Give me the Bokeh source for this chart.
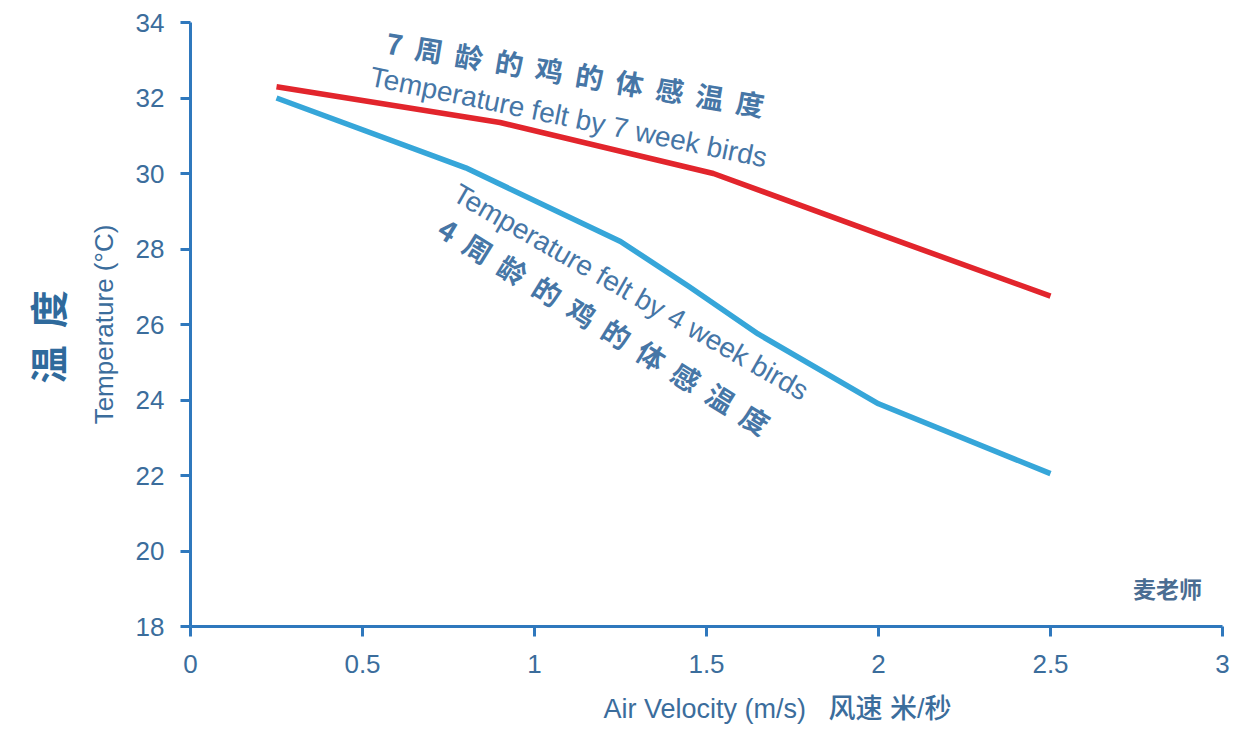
import math
from bokeh.plotting import figure
from bokeh.models import Range1d, FixedTicker, Label, Title
from bokeh.embed import file_html
from bokeh.resources import INLINE

# ---- data ----
x_ticks = [0, 0.5, 1, 1.5, 2, 2.5, 3]
x_tick_labels = ["0", "0.5", "1", "1.5", "2", "2.5", "3"]
y_ticks = [18, 20, 22, 24, 26, 28, 30, 32, 34]
y_tick_labels = ["18", "20", "22", "24", "26", "28", "30", "32", "34"]

velocity_7wk = [0.25, 0.9, 1.52, 2.0, 2.5]
temp_7wk = [32.3, 31.35, 30.0, 28.4, 26.75]

velocity_4wk = [0.25, 0.8, 1.25, 1.45, 1.65, 2.0, 2.5]
temp_4wk = [32.0, 30.15, 28.2, 27.0, 25.75, 23.9, 22.05]

SP = " \u00a0"
title_7wk_cn = SP.join(["7", "周", "龄", "的", "鸡", "的", "体", "感", "温", "度"])
title_7wk_en = "Temperature felt by 7 week birds"
title_4wk_en = "Temperature felt by 4 week birds"
title_4wk_cn = SP.join(["4", "周", "龄", "的", "鸡", "的", "体", "感", "温", "度"])
y_label_en = "Temperature (°C)"
y_label_cn = "温" + SP + "度"
x_label = "Air Velocity (m/s)" + SP + "\u00a0风速 米/秒"
watermark = "麦老师"

# ---- styles ----
AXIS_COLOR = "#2f78bd"
LABEL_COLOR = "#3b6d9c"
NOTE_COLOR = "#4676a6"
RED = "#e2252c"
BLUE = "#36a6d9"
LATIN = "Liberation Sans"
CJK = "Noto Sans CJK SC"

p = figure(width=1248, height=740, output_backend="svg", toolbar_location=None,
           x_range=Range1d(0, 3), y_range=Range1d(18, 34),
           min_border_left=190, min_border_right=26, min_border_top=22,
           min_border_bottom=114)
p.outline_line_color = None
p.grid.visible = False
p.background_fill_color = "white"
p.border_fill_color = "white"

p.line(velocity_7wk, temp_7wk, line_color=RED, line_width=5.5, line_join="round")
p.line(velocity_4wk, temp_4wk, line_color=BLUE, line_width=5.5, line_join="round")

for ax, ticks, labels in ((p.xaxis[0], x_ticks, x_tick_labels), (p.yaxis[0], y_ticks, y_tick_labels)):
    ax.ticker = FixedTicker(ticks=ticks)
    ax.major_label_overrides = {float(t): l for t, l in zip(ticks, labels)}
    ax.axis_line_color = AXIS_COLOR
    ax.axis_line_width = 3
    ax.major_tick_line_color = AXIS_COLOR
    ax.major_tick_line_width = 3
    ax.major_tick_out = 10
    ax.major_tick_in = 0
    ax.minor_tick_line_color = None
    ax.major_label_text_font = LATIN
    ax.major_label_text_font_size = "26px"
    ax.major_label_text_color = LABEL_COLOR
    ax.axis_label_text_font = LATIN
    ax.axis_label_text_font_size = "26px"
    ax.axis_label_text_font_style = "normal"
    ax.axis_label_text_color = LABEL_COLOR

p.xaxis.major_label_standoff = 18
p.yaxis.major_label_standoff = 16
p.yaxis.axis_label = y_label_en
p.yaxis.axis_label_standoff = 14

# axis titles outside the axes
p.add_layout(Title(text=y_label_cn, text_font=CJK, text_font_size="38px",
                   text_font_style="bold", text_color="#2f6a9c", align="left",
                   offset=243, standoff=24), "left")
p.add_layout(Title(text=x_label,
                   text_font="Liberation Sans, Noto Sans CJK SC Medium, Noto Sans CJK SC",
                   text_font_size="27px", text_font_style="normal",
                   text_color=LABEL_COLOR, align="left", offset=413, standoff=33),
             "below")


def lab(x, y, text, font, size, color, angle=0.0, align="left", bold=False):
    p.add_layout(Label(x=x, y=y, text=text, text_font=font, text_font_size=size,
                       text_color=color, angle=angle, text_align=align,
                       text_baseline="middle",
                       text_font_style="bold" if bold else "normal"))


# annotations along the curves
lab(0.570, 33.49, title_7wk_cn, CJK, "28px", NOTE_COLOR, angle=-math.radians(9.5), bold=True)
lab(0.523, 32.58, title_7wk_en, LATIN, "28px", NOTE_COLOR, angle=-math.radians(11.7))
lab(0.770, 29.53, title_4wk_en, LATIN, "28px", NOTE_COLOR, angle=-math.radians(29.9))
lab(0.730, 28.63, title_4wk_cn, CJK, "28px", NOTE_COLOR, angle=-math.radians(31.7), bold=True)

# watermark
lab(2.840, 19.03, watermark, CJK, "23px", "#4a6d92", align="center", bold=True)

open("out.html", "w").write(file_html(p, INLINE))
